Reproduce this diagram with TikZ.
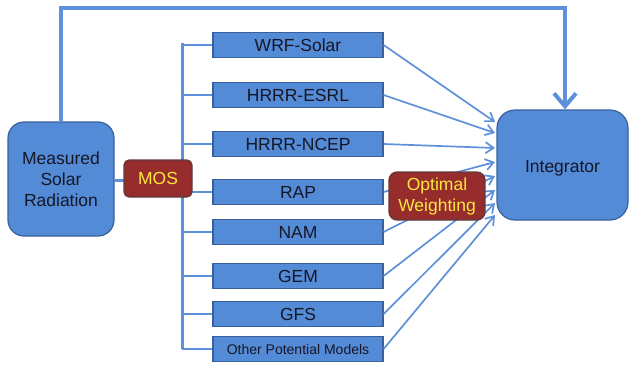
\documentclass[tikz,border=0pt]{standalone}
\usepackage{fontspec}
\setmainfont{Liberation Sans}
\usetikzlibrary{arrows.meta}

\definecolor{boxblue}{RGB}{84,139,214}
\definecolor{boxedge}{RGB}{56,96,158}
\definecolor{linkblue}{RGB}{94,145,218}
\definecolor{weightred}{RGB}{150,44,44}
\definecolor{weightedge}{RGB}{96,58,62}
\definecolor{labelyellow}{RGB}{250,232,60}
\definecolor{inkdark}{RGB}{22,22,38}

\tikzset{
  model/.style={draw=boxedge, line width=1.2, fill=boxblue, minimum width=170, minimum height=25,
    inner sep=0, text=inkdark, font=\fontsize{17.5}{20}\selectfont},
  roundbox/.style={draw=boxedge, line width=1.2, fill=boxblue, rounded corners=16, inner sep=0,
    text=inkdark, align=center, font=\fontsize{17.5}{21}\selectfont},
  redbox/.style={draw=weightedge, line width=1.2, fill=weightred, inner sep=0, align=center,
    text=labelyellow, font=\fontsize{17.5}{21}\selectfont},
  feed/.style={draw=linkblue, line width=2},
  bus/.style={draw=linkblue, line width=3},
  toint/.style={draw=linkblue, line width=1.7, -{Straight Barb[length=8,width=11,line width=1.7]}},
}

\begin{document}
\begin{tikzpicture}[x=1pt,y=1pt,yscale=-1,xscale=1]
\useasboundingbox (0,0) rectangle (630,365);

%Corner points
\coordinate (top) at (565,8);
\coordinate (bustop) at (182,43);

% Input and output boxes
\draw (61,179) node[roundbox, minimum width=106, minimum height=114] (meas) {Measured\\Solar\\Radiation};
\draw (562.5,165) node[roundbox, rounded corners=18, minimum width=131, minimum height=110] (integ) {};
\draw (integ.center) ++(0,3) node[text=inkdark, font=\fontsize{17.5}{21}\selectfont] (integtext) {Integrator};

% Model boxes
\draw (298,45) node[model] (wrf) {WRF-Solar};
\draw (298,95) node[model] (esrl) {HRRR-ESRL};
\draw (298,144) node[model] (ncep) {HRRR-NCEP};
\draw (298,192) node[model] (rap) {RAP};
\draw (298,232) node[model] (nam) {NAM};
\draw (298,276) node[model] (gem) {GEM};
\draw (298,314) node[model] (gfs) {GFS};
\draw (298,349) node[model, font=\fontsize{14}{16}\selectfont] (other) {Other Potential Models};

% Ends on the integrator
\foreach \m/\y in {wrf/122,esrl/133,ncep/148,rap/162,nam/176,gem/190,gfs/203,other/215}
  \coordinate (in-\m) at (495,\y);

%Feedback line
\draw [line width=4, draw=linkblue, -{Straight Barb[length=13,width=22,line width=4]}]
  (meas.north) |- (top) -- (top |- integ.north);

%Bus
\draw [bus] (bustop) -- (bustop |- other.west);
\foreach \m in {wrf,esrl,ncep,rap,nam,gem,gfs,other}
  \draw [feed] (bustop |- \m.west) -- (\m.west);
\draw [bus] (meas.east |- 0,180) -- (182,180);

%Straight Lines to integrator
\foreach \m in {wrf,esrl,ncep,rap,nam,gem,gfs,other}
  \draw [toint] (\m.east) -- (in-\m);

% Red boxes
\draw (158,178.5) node[redbox, rounded corners=5, minimum width=68, minimum height=37] (mos) {MOS};
\draw (437,196) node[redbox, rounded corners=8, minimum width=96, minimum height=48] (weight) {Optimal\\Weighting};

\end{tikzpicture}
\end{document}
